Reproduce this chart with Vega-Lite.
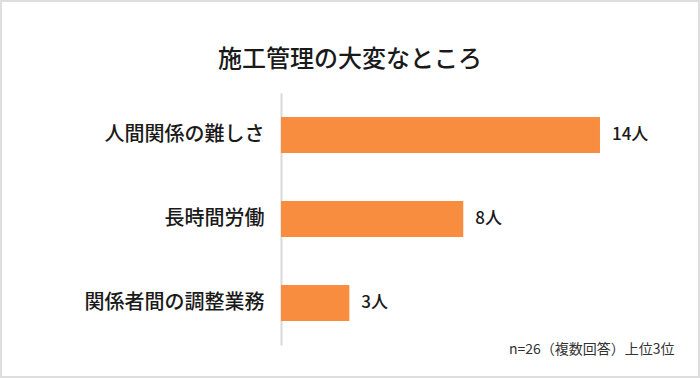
{
  "$schema": "https://vega.github.io/schema/vega-lite/v6.json",
  "width": 700,
  "height": 378,
  "autosize": {"type": "none"},
  "padding": 0,
  "background": "#ffffff",
  "config": {
    "view": {"stroke": "#dedede", "strokeWidth": 4},
    "font": "Noto Sans CJK JP"
  },
  "title": {
    "text": "施工管理の大変なところ",
    "fontSize": 24,
    "fontWeight": 500,
    "color": "#1a1a1a",
    "anchor": "middle",
    "frame": "group",
    "offset": -72,
    "font": "Noto Sans CJK JP"
  },
  "data": {
    "values": [
      {"item": "人間関係の難しさ", "count": 14, "label": "14人"},
      {"item": "長時間労働", "count": 8, "label": "8人"},
      {"item": "関係者間の調整業務", "count": 3, "label": "3人"}
    ]
  },
  "encoding": {
    "y": {
      "field": "item",
      "type": "nominal",
      "sort": null,
      "scale": {"range": [93, 345], "paddingInner": 0.57, "paddingOuter": 0.285},
      "axis": {
        "title": null,
        "orient": "left",
        "offset": -281,
        "ticks": false,
        "labelPadding": 17,
        "labelFontSize": 20,
        "labelFontWeight": 500,
        "labelColor": "#1a1a1a",
        "labelLimit": 300,
        "domainColor": "#d9d9d9",
        "domainWidth": 2
      }
    },
    "x": {
      "field": "count",
      "type": "quantitative",
      "scale": {"domain": [0, 18.39], "range": [281, 700], "nice": false},
      "axis": {
        "orient": "bottom",
        "offset": -36,
        "domain": false,
        "ticks": false,
        "labels": false,
        "grid": false,
        "title": "n=26（複数回答）上位3位",
        "titleAnchor": "end",
        "titleX": 674,
        "titleFontSize": 14,
        "titleFontWeight": "normal",
        "titleColor": "#333333",
        "titlePadding": 0,
        "titleBaseline": "top"
      }
    }
  },
  "layer": [
    {"mark": {"type": "bar", "color": "#F98D3F"}},
    {
      "mark": {"type": "text", "align": "left", "dx": 12, "fontSize": 17, "fontWeight": 500, "color": "#1a1a1a", "baseline": "middle"},
      "encoding": {"text": {"field": "label"}}
    }
  ]
}
